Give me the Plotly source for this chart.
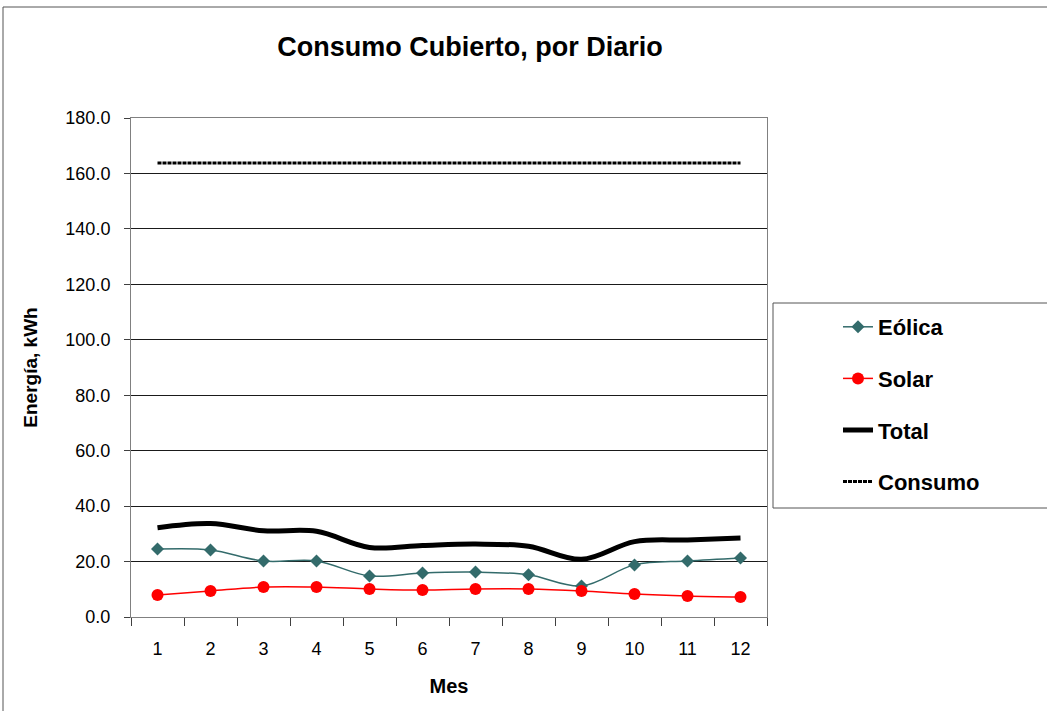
import plotly.graph_objects as go

meses = ["1", "2", "3", "4", "5", "6", "7", "8", "9", "10", "11", "12"]
eolica = [24.5, 24.2, 20.2, 20.2, 14.8, 15.9, 16.2, 15.2, 11.2, 18.8, 20.2, 21.3]
solar = [7.9, 9.4, 10.8, 10.8, 10.1, 9.7, 10.1, 10.1, 9.4, 8.3, 7.6, 7.2]
total = [32.2, 33.7, 31.1, 30.9, 25.1, 25.8, 26.3, 25.5, 20.8, 27.2, 27.8, 28.5]
consumo = [163.8] * 12

FONT = "Liberation Sans, Arial, sans-serif"

fig = go.Figure()
fig.add_trace(go.Scatter(x=meses, y=eolica, name="Eólica", mode="lines+markers",
                         line=dict(color="#336B6B", width=1.5, shape="spline"),
                         marker=dict(symbol="diamond", size=10, color="#336B6B"),
                         legendgroup="a"))
fig.add_trace(go.Scatter(x=meses, y=solar, name="Solar", mode="lines+markers",
                         line=dict(color="#FF0000", width=1.5, shape="spline"),
                         marker=dict(symbol="circle", size=12, color="#FF0000"),
                         legendgroup="b"))
fig.add_trace(go.Scatter(x=meses, y=total, name="Total", mode="lines",
                         line=dict(color="black", width=5, shape="spline"),
                         legendgroup="c"))
fig.add_trace(go.Scatter(x=meses, y=consumo, name="Consumo", mode="lines",
                         line=dict(color="black", width=3, dash="4px,1px"),
                         legendgroup="d"))

L, R, T, B = 131, 767, 118, 617
W, H = 1047, 711
pw, ph = R - L, B - T

def px(x):
    return (x - L) / pw

def py(y):
    return 1 - (y - T) / ph

fig.update_layout(
    width=W, height=H,
    margin=dict(l=L, r=W - R, t=T, b=H - B, pad=0),
    paper_bgcolor="white", plot_bgcolor="white",
    font=dict(family=FONT, color="black", size=18),
    title=dict(text="<b>Consumo Cubierto, por Diario</b>", x=470 / W, xanchor="center",
               y=1 - 47 / H, yanchor="middle", xref="container", yref="container",
               font=dict(size=27, family=FONT)),
    showlegend=True,
    legend=dict(x=px(838), xanchor="left", y=py(306), yanchor="top",
                font=dict(size=22, family=FONT, weight="bold"),
                bgcolor="rgba(0,0,0,0)", borderwidth=0,
                tracegroupgap=20, traceorder="grouped", itemwidth=30),
    xaxis=dict(type="category", range=[-0.5, 11.5], tickson="boundaries",
               ticks="outside", ticklen=8, ticklabelstandoff=15,
               tickcolor="#404040", showline=True, linecolor="#808080", linewidth=1,
               mirror=True, showgrid=False, tickfont=dict(size=18),
               title=dict(text="<b>Mes</b>", font=dict(size=20), standoff=21)),
    yaxis=dict(range=[0, 180], dtick=20, tickformat=".1f", ticks="outside", ticklen=6,
               ticklabelstandoff=10,
               tickcolor="#404040", showline=True, linecolor="#808080", linewidth=1,
               mirror=True, showgrid=True, gridcolor="#1a1a1a", gridwidth=1,
               zeroline=False, tickfont=dict(size=18),
               title=dict(text="<b>Energía, kWh</b>", font=dict(size=19), standoff=22)),
    shapes=[
        dict(type="rect", xref="paper", yref="paper", x0=px(773), x1=px(1060),
             y0=py(508), y1=py(303), line=dict(color="#555555", width=1)),
        dict(type="line", xref="paper", yref="paper", x0=px(3), x1=px(1060),
             y0=py(7), y1=py(7), line=dict(color="#555555", width=1)),
        dict(type="line", xref="paper", yref="paper", x0=px(3), x1=px(3),
             y0=py(7), y1=py(720), line=dict(color="#555555", width=1)),
    ],
)

fig.write_html("out.html", config={"displayModeBar": False},
               post_script="document.body.style.margin='0';document.body.style.overflow='hidden';")
